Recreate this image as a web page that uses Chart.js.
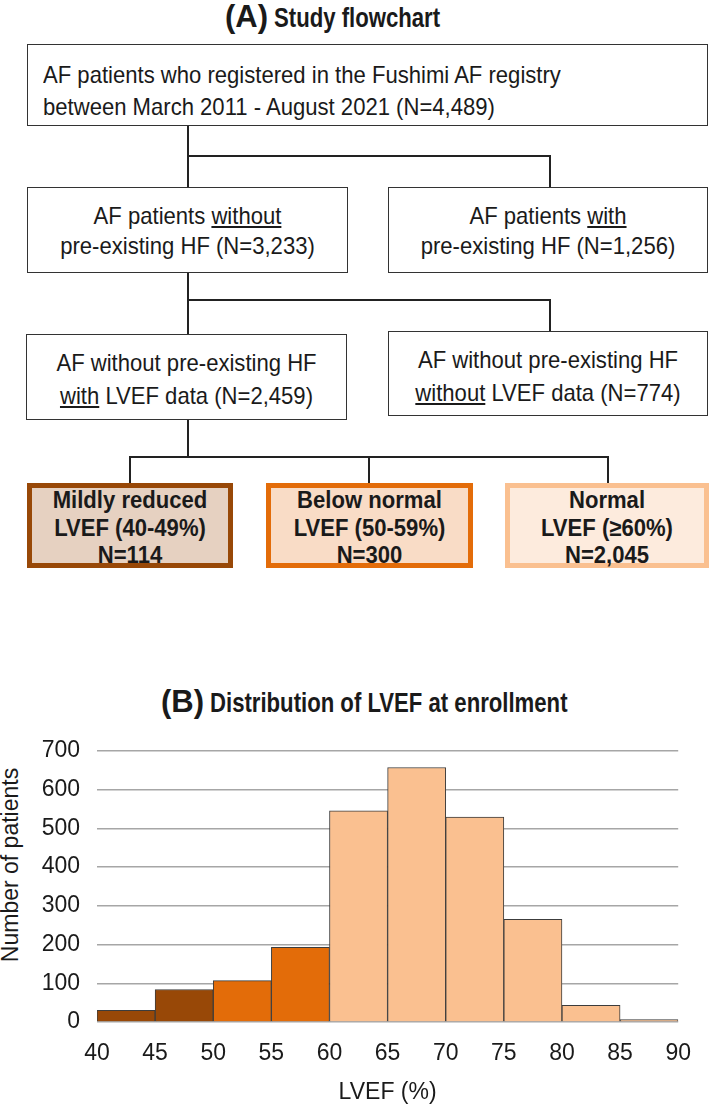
<!DOCTYPE html>
<html>
<head>
<meta charset="utf-8">
<script src="https://cdn.jsdelivr.net/npm/chart.js@4.4.1/dist/chart.umd.min.js"></script>
<style>
  body { margin: 0; background: #fff; width: 709px; height: 1108px; position: relative; overflow: hidden;
         font-family: "Liberation Sans", Arial, sans-serif; color: #1a1a1a; }
  .box { position: absolute; box-sizing: border-box; border: 1.5px solid #333; background: #fff; }
  .ln { position: absolute; left: 0; right: 0; text-align: center; font-size: 24px; line-height: 26px; white-space: nowrap;
        transform: scaleX(0.92); }
  .ln.left { text-align: left; transform-origin: left center; }
  .bold .ln { font-weight: bold; }
  .wire { position: absolute; background: #222; }
  .ttl { position: absolute; white-space: nowrap; font-weight: bold; line-height: 36px; }
  .ttl .big { font-size: 31px; }
  .ttl .nar { display: inline-block; font-size: 27px; transform: scaleX(0.82); transform-origin: left center; margin-left: 6px; }
  #ytitle { position: absolute; left: 10px; top: 865px; font-size: 23px; line-height: 23px; white-space: nowrap;
            transform: translate(-50%, -50%) rotate(-90deg); }
  #histo { position: absolute; left: 0; top: 720px; }
</style>
</head>
<body>

<!-- (A) flowchart -->
<div class="ttl" style="left:225px;top:-1px"><span class="big">(A)</span><span class="nar">Study flowchart</span></div>

<div class="box" style="left:27px;top:44px;width:681px;height:82px">
  <div class="ln left" style="top:17px;left:15px">AF patients who registered in the Fushimi AF registry</div>
  <div class="ln left" style="top:49px;left:15px">between March 2011 - August 2021 (N=4,489)</div>
</div>

<div class="wire" style="left:187px;top:126px;width:1.5px;height:61px"></div>
<div class="wire" style="left:187px;top:155px;width:363px;height:1.5px"></div>
<div class="wire" style="left:549px;top:155px;width:1.5px;height:32px"></div>

<div class="box" style="left:27px;top:187px;width:321px;height:86px">
  <div class="ln" style="top:15px">AF patients <u>without</u></div>
  <div class="ln" style="top:45px">pre-existing HF (N=3,233)</div>
</div>
<div class="box" style="left:388px;top:187px;width:320px;height:86px">
  <div class="ln" style="top:15px">AF patients <u>with</u></div>
  <div class="ln" style="top:45px">pre-existing HF (N=1,256)</div>
</div>

<div class="wire" style="left:187px;top:273px;width:1.5px;height:61px"></div>
<div class="wire" style="left:187px;top:299px;width:363px;height:1.5px"></div>
<div class="wire" style="left:549px;top:299px;width:1.5px;height:32px"></div>

<div class="box" style="left:26px;top:334px;width:321px;height:86px">
  <div class="ln" style="top:15px">AF without pre-existing HF</div>
  <div class="ln" style="top:48px"><u>with</u> LVEF data (N=2,459)</div>
</div>
<div class="box" style="left:388px;top:331px;width:320px;height:85px">
  <div class="ln" style="top:15px">AF without pre-existing HF</div>
  <div class="ln" style="top:48px"><u>without</u> LVEF data (N=774)</div>
</div>

<div class="wire" style="left:187px;top:420px;width:1.5px;height:37px"></div>
<div class="wire" style="left:129px;top:456px;width:480px;height:1.5px"></div>
<div class="wire" style="left:129px;top:456px;width:1.5px;height:27px"></div>
<div class="wire" style="left:368px;top:456px;width:1.5px;height:27px"></div>
<div class="wire" style="left:607px;top:456px;width:1.5px;height:27px"></div>

<div class="box bold" style="left:27px;top:483px;width:206px;height:85px;border:5px solid #984807;background:#e6d1c1">
  <div class="ln" style="top:-1px">Mildly reduced</div>
  <div class="ln" style="top:27px">LVEF (40-49%)</div>
  <div class="ln" style="top:54px">N=114</div>
</div>
<div class="box bold" style="left:266px;top:483px;width:207px;height:85px;border:5px solid #E36C09;background:#f9dcc6">
  <div class="ln" style="top:-1px">Below normal</div>
  <div class="ln" style="top:27px">LVEF (50-59%)</div>
  <div class="ln" style="top:54px">N=300</div>
</div>
<div class="box bold" style="left:505px;top:483px;width:204px;height:85px;border:5px solid #FAC090;background:#fdebdd">
  <div class="ln" style="top:-1px">Normal</div>
  <div class="ln" style="top:27px">LVEF (&ge;60%)</div>
  <div class="ln" style="top:54px">N=2,045</div>
</div>

<!-- (B) histogram -->
<div class="ttl" style="left:161px;top:684px"><span class="big">(B)</span><span class="nar">Distribution of LVEF at enrollment</span></div>
<div id="ytitle">Number of patients</div>

<canvas id="histo" width="709" height="388"></canvas>

<script>
// LVEF bins (lower edge, %), 5 points wide
var binStarts = [40, 45, 50, 55, 60, 65, 70, 75, 80, 85];
// number of patients in each bin
var patientCounts = [30, 84, 107, 193, 545, 657, 529, 265, 43, 6];
// axis ticks
var xTicks = [40, 45, 50, 55, 60, 65, 70, 75, 80, 85, 90];
var yTicks = [0, 100, 200, 300, 400, 500, 600, 700];

function binColor(start) {
    if (start < 50) return "#984807";   // mildly reduced
    if (start < 60) return "#E36C09";   // below normal
    return "#FAC090";                   // normal
}

Chart.defaults.font.family = '"Liberation Sans", Arial, sans-serif';
Chart.defaults.color = "#1a1a1a";

var ctx = document.getElementById("histo");
var histo = new Chart(ctx, {
    type: "bar",
    data: {
        datasets: [
            {
                data: binStarts.map(function (s, i) { return { x: s + 2.5, y: patientCounts[i] }; }),
                backgroundColor: binStarts.map(binColor),
                borderColor: "#3c3c3c",
                borderWidth: 1,
                barPercentage: 1,
                categoryPercentage: 1,
            },
        ],
    },
    options: {
        responsive: false,
        animation: false,
        devicePixelRatio: 1,
        layout: { padding: { top: 22, right: 20, left: 0, bottom: 0 } },
        plugins: { legend: false, tooltip: { enabled: false } },
        scales: {
            x: {
                type: "linear",
                min: xTicks[0],
                max: xTicks[xTicks.length - 1],
                offset: false,
                afterBuildTicks: function (s) { s.ticks = xTicks.map(function (v) { return { value: v }; }); },
                ticks: { font: { size: 23 }, padding: 18, maxRotation: 0, autoSkip: false },
                grid: { display: false, drawTicks: false },
                border: { display: false },
                title: { display: true, text: "LVEF (%)", font: { size: 23 }, padding: { top: 0, bottom: 2 } },
                afterFit: function (s) { s.height = 86; },
            },
            y: {
                min: yTicks[0],
                max: yTicks[yTicks.length - 1],
                afterBuildTicks: function (s) { s.ticks = yTicks.map(function (v) { return { value: v }; }); },
                ticks: { font: { size: 23 }, padding: 17 },
                grid: { color: "#a6a6a6", lineWidth: 1.5, drawTicks: false },
                border: { display: false },
                afterFit: function (s) { s.width = 97; },
            },
        },
    },
});
</script>
</body>
</html>
